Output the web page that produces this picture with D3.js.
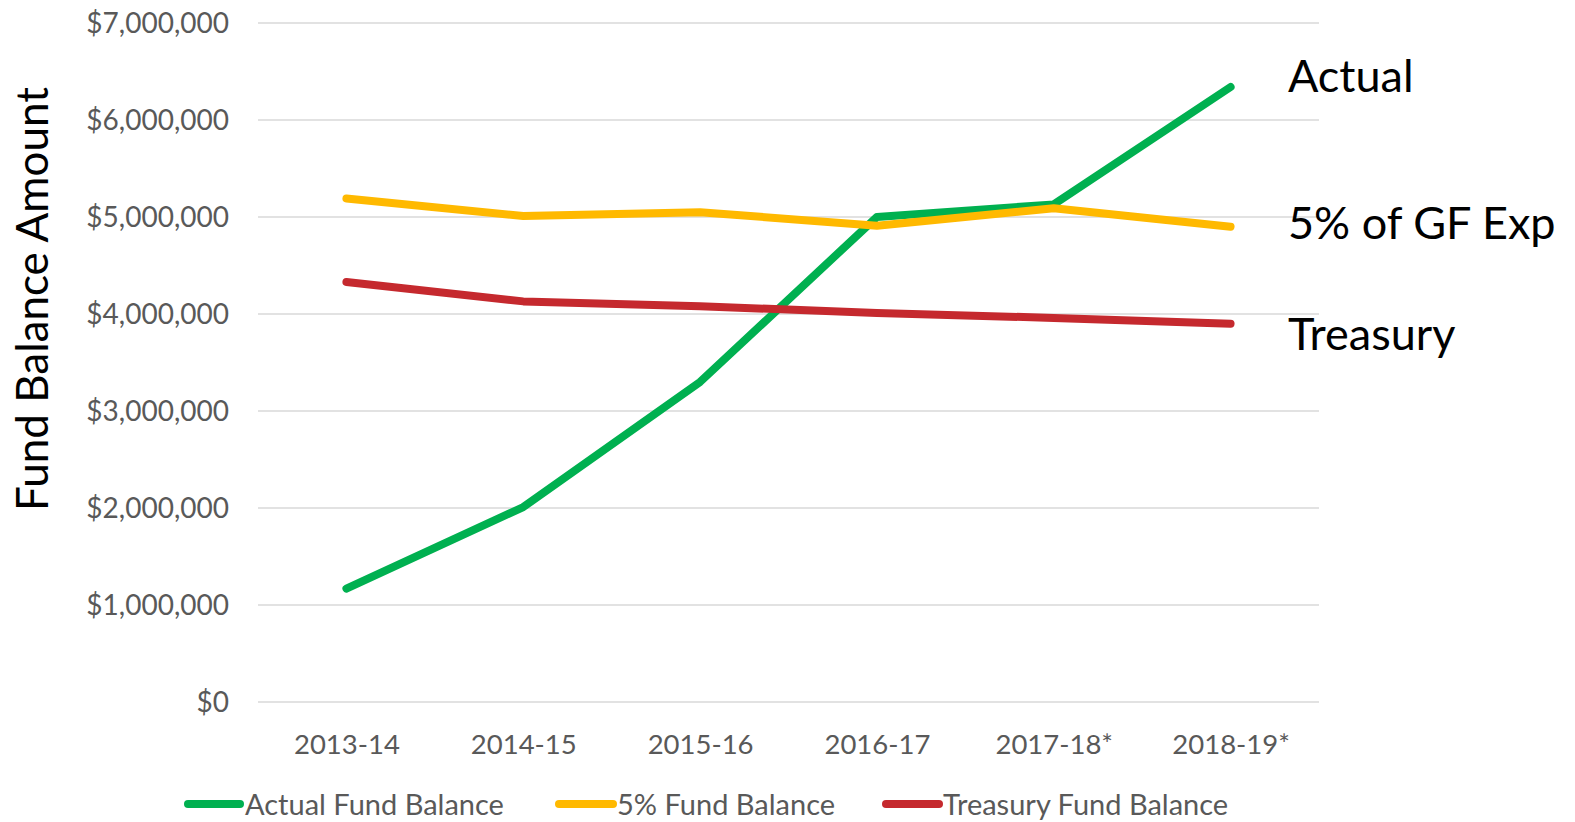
<!DOCTYPE html>
<html>
<head>
<meta charset="utf-8">
<script src="https://cdn.jsdelivr.net/npm/d3@7"></script>
<style>
  html, body { margin: 0; padding: 0; background: #fff; }
  svg { display: block; font-family: Lato, "Open Sans", sans-serif; }
</style>
</head>
<body>
<svg id="chart" width="1575" height="822"></svg>
<script>
const categories = ["2013-14", "2014-15", "2015-16", "2016-17", "2017-18*", "2018-19*"];
const actualValues = [1170000, 2010000, 3300000, 5000000, 5130000, 6340000];
const fivePctValues = [5190000, 5010000, 5050000, 4910000, 5090000, 4900000];
const treasuryValues = [4330000, 4130000, 4080000, 4010000, 3960000, 3900000];
const yTicks = [0, 1000000, 2000000, 3000000, 4000000, 5000000, 6000000, 7000000];
const seriesNames = ["Actual Fund Balance", "5% Fund Balance", "Treasury Fund Balance"];
const endLabels = ["Actual", "5% of GF Exp", "Treasury"];
const yTitle = "Fund Balance Amount";

const colors = ["#00B050", "#FFB900", "#C5292E"];
const series = [actualValues, fivePctValues, treasuryValues];

const svg = d3.select("#chart");
const plot = { left: 258, right: 1319, top: 23, bottom: 702 };

const x = d3.scalePoint().domain(categories).range([plot.left, plot.right]).padding(0.5);
const y = d3.scaleLinear().domain([0, 7000000]).range([plot.bottom, plot.top]);

// gridlines
svg.append("g").selectAll("line").data(yTicks).join("line")
  .attr("x1", plot.left).attr("x2", plot.right)
  .attr("y1", d => y(d)).attr("y2", d => y(d))
  .attr("stroke", "#d9d9d9").attr("stroke-width", 1.3);

// y axis labels
const fmt = d => "$" + d3.format(",")(d);
const yAxis = d3.axisLeft(y).tickValues(yTicks).tickFormat(fmt).tickSize(0).tickPadding(0);
const yg = svg.append("g").attr("transform", `translate(229,0)`).call(yAxis);
yg.select(".domain").remove();
yg.selectAll("text").attr("font-size", 28).attr("fill", "#595959")
  .attr("font-family", "Lato, sans-serif").attr("dy", "0.35em");

// x axis labels
const xAxis = d3.axisBottom(x).tickSize(0).tickPadding(0);
const xg = svg.append("g").attr("transform", `translate(0,744)`).call(xAxis);
xg.select(".domain").remove();
xg.selectAll("text").attr("font-size", 27.5).attr("fill", "#595959")
  .attr("font-family", "Lato, sans-serif").attr("dy", "0.35em");

// y title
svg.append("text")
  .attr("transform", "translate(48,299) rotate(-90)")
  .attr("text-anchor", "middle")
  .attr("font-size", 44).attr("fill", "#000")
  .text(yTitle);

// lines
const line = d3.line().x((d, i) => x(categories[i])).y(d => y(d));
series.forEach((vals, k) => {
  svg.append("path").datum(vals)
    .attr("d", line)
    .attr("fill", "none")
    .attr("stroke", colors[k])
    .attr("stroke-width", 8)
    .attr("stroke-linecap", "round")
    .attr("stroke-linejoin", "round");
});

// end labels
const endLabelY = [92, 239, 350];
endLabels.forEach((t, k) => {
  svg.append("text").attr("x", 1288).attr("y", endLabelY[k])
    .attr("font-size", 45).attr("fill", "#000").text(t);
});

// legend
const legendItems = [
  { x1: 188, x2: 240, tx: 245 },
  { x1: 559, x2: 613, tx: 617 },
  { x1: 886, x2: 939, tx: 943 }
];
const lg = svg.append("g");
legendItems.forEach((it, k) => {
  lg.append("line").attr("x1", it.x1).attr("x2", it.x2).attr("y1", 804).attr("y2", 804)
    .attr("stroke", colors[k]).attr("stroke-width", 8).attr("stroke-linecap", "round");
  lg.append("text").attr("x", it.tx).attr("y", 805).attr("dy", "0.35em")
    .attr("font-size", 29).attr("fill", "#595959").text(seriesNames[k]);
});
</script>
</body>
</html>
